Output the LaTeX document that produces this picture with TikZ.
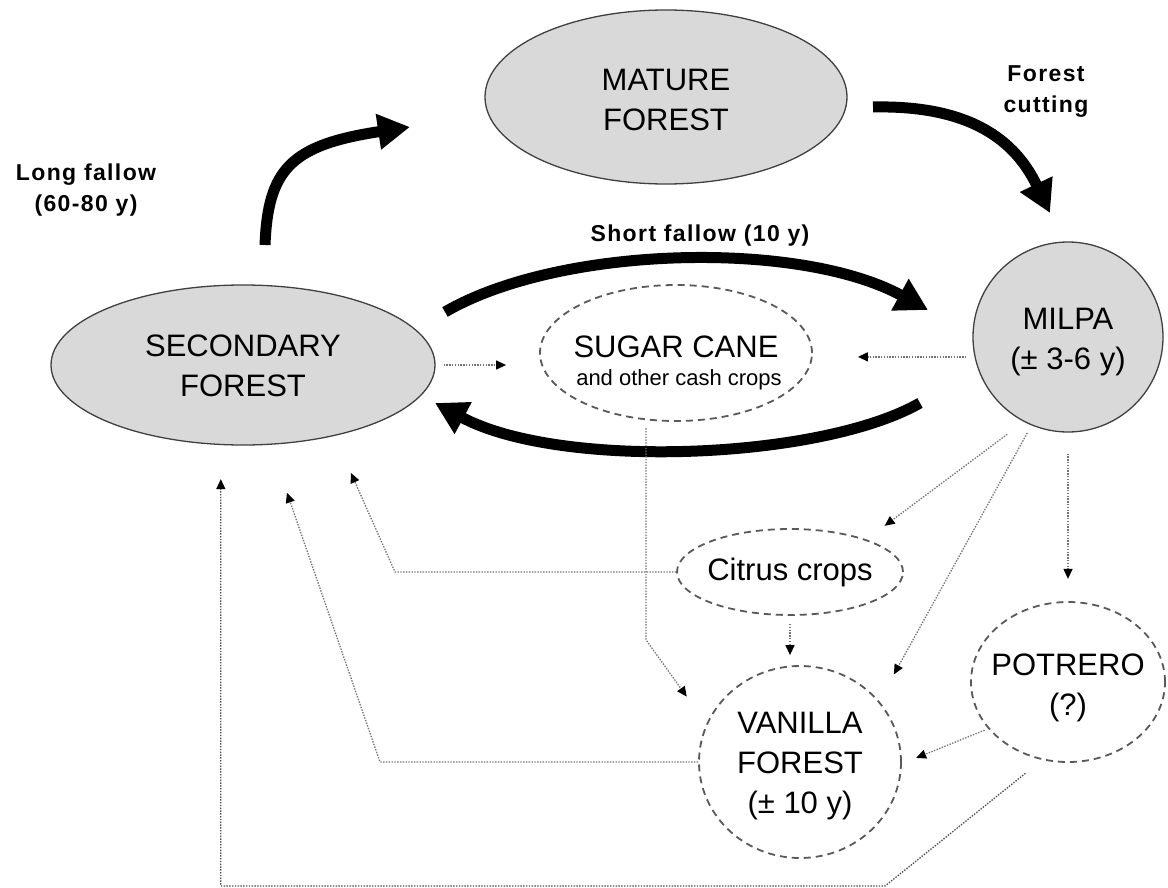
\documentclass[tikz,border=0pt]{standalone}
\usepackage{fontspec}
\setmainfont{Liberation Sans}
\newfontfamily\lblfont[LetterSpace=6]{Liberation Sans}
\usetikzlibrary{arrows.meta,shapes.geometric,calc}
\begin{document}
\begin{tikzpicture}[x=1pt,y=-1pt,
  solidnode/.style={ellipse, draw=black!75, line width=1.3pt, fill=black!15, inner sep=0pt},
  dashnode/.style={ellipse, draw=black!65, line width=1.8pt, dash pattern=on 7pt off 5pt, inner sep=0pt},
  bigtext/.style={font=\fontsize{31}{40}\selectfont, align=center, inner sep=0pt},
  smalltext/.style={font=\fontsize{22}{25}\selectfont, inner sep=0pt},
  lbl/.style={font=\lblfont\bfseries\fontsize{23}{31}\selectfont, align=center, inner sep=0pt},
  bigarrow/.style={line width=11pt, -{Triangle[length=32pt,width=34pt]}},
  conn/.style={draw=black!55, line width=1.3pt, dash pattern=on 1.4pt off 1.4pt, -{Triangle[length=10pt,width=9pt,color=black]}},
]
\fill[white] (0,0) rectangle (1168,888);
\useasboundingbox (0,0) rectangle (1168,888);

% shapes
\node[solidnode, minimum width=362pt, minimum height=174pt] (mature) at (666,97) {};
\node[solidnode, minimum width=384pt, minimum height=160pt] (secondary) at (243,365) {};
\node[solidnode, minimum width=190pt, minimum height=190pt] (milpa) at (1068,337) {};
\node[dashnode, minimum width=272pt, minimum height=136pt] (sugar) at (676,353) {};
\node[dashnode, minimum width=226pt, minimum height=86pt] (citrus) at (790,572) {};
\node[dashnode, minimum width=202pt, minimum height=192pt] (vanilla) at (800,762) {};
\node[dashnode, minimum width=194pt, minimum height=160pt] (potrero) at (1068,682) {};

% texts
\node[bigtext] (tmature) at (666,100) {MATURE\\FOREST};
\node[bigtext] (tsecondary) at (243,366) {SECONDARY\\FOREST};
\node[bigtext] (tmilpa) at (1068,342) {MILPA\\(± 3-6 y)};
\node[bigtext, anchor=base] (tsugar) at (676,357) {SUGAR CANE};
\node[smalltext, anchor=base] (tsugar2) at (679,385) {and other cash crops};
\node[bigtext, anchor=base] (tcitrus) at (790,580) {Citrus crops};
\node[bigtext] (tvanilla) at (800,766) {VANILLA\\FOREST\\(± 10 y)};
\node[bigtext] (tpotrero) at (1068,688) {POTRERO\\(?)};

% labels
\node[lbl] (llong) at (86,190) {Long fallow\\(60-80 y)};
\node[lbl] (lcut) at (1046,92) {Forest\\cutting};
\node[lbl] (lshort) at (700,236) {Short fallow (10 y)};

% thick arrows
\coordinate (lf1) at (265,245);
\coordinate (lf2) at (410,127);
\draw[bigarrow] (lf1) .. controls (268,170) and (290,145) .. (lf2);
\coordinate (fc1) at (873,107);
\coordinate (fc2) at (1050,213);
\draw[bigarrow] (fc1) .. controls (970,105) and (1015,140) .. (fc2);
\coordinate (sf1) at (445,312);
\coordinate (sf2) at (928,310);
\draw[bigarrow] (sf1) .. controls (560,245) and (800,240) .. (sf2);
\coordinate (bt1) at (920,403);
\coordinate (bt2) at (435,403);
\draw[bigarrow] (bt1) .. controls (820,460) and (560,470) .. (bt2);

% thin connectors
\draw[conn] ($(milpa.center)!1.2!(milpa.238)$) -- ($(citrus.center)!1.34!(citrus.26)$);
\draw[conn] ($(milpa.center)!1.09!(milpa.247)$) -- ($(vanilla.center)!1.29!(vanilla.43)$);
\draw[conn] ($(milpa.center)!1.22!(milpa.south)$) -- ($(potrero.center)!1.275!(potrero.north)$);
\draw[conn, shorten <=8pt, shorten >=10pt] (citrus.south) -- (citrus.south |- vanilla.north);
\coordinate (sc1) at (646,640);
\draw[conn] ([yshift=-8pt]sugar.246) -- (sugar.246 |- sc1) -- ($(vanilla.center)!1.3!(vanilla.150)$);
\coordinate (cc1) at (395,572);
\draw[conn] (citrus.west) -- (cc1) -- ($(secondary.center)!1.45!(secondary.315.5)$);
\coordinate (vc1) at (380,762);
\draw[conn] (vanilla.west) -- (vc1) -- ($(secondary.center)!1.6!(secondary.289)$);
\draw[conn] ($(potrero.center)!1.04!(potrero.210)$) -- ($(vanilla.center)!1.14!(vanilla.2)$);
\coordinate (pc1) at (885,886);
\draw[conn, draw=black!70] ($(potrero.center)!1.21!(potrero.245)$) -- (pc1) -| ($(secondary.center)!1.42!(secondary.259.5)$);
\draw[conn, shorten <=8pt, shorten >=33pt] (secondary.east) -- (secondary.east -| sugar.west);
\draw[conn, shorten <=8pt, shorten >=45pt] (milpa.192) -- (milpa.192 -| sugar.east);
\end{tikzpicture}
\end{document}
